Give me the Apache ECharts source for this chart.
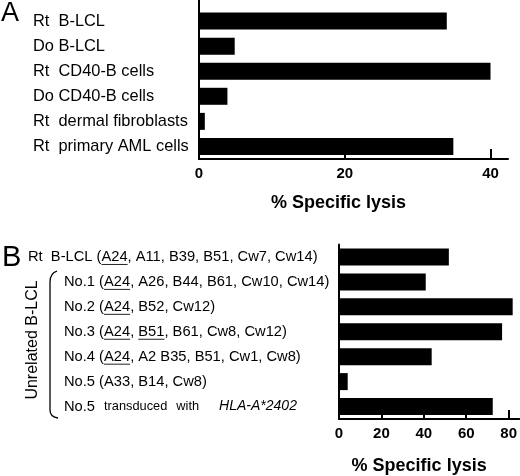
<!DOCTYPE html>
<html>
<head>
<meta charset="utf-8">
<script src="https://cdn.jsdelivr.net/npm/echarts@6/dist/echarts.min.js"></script>
<style>
  html, body { margin: 0; padding: 0; background: #fff; }
  #chart { width: 520px; height: 476px; }
</style>
</head>
<body>
<div id="chart"></div>
<script>
// panel A : target cells
const cellsA = ['Rt  B-LCL', 'Do B-LCL', 'Rt  CD40-B cells', 'Do CD40-B cells', 'Rt  dermal fibroblasts', 'Rt  primary AML cells'];
const lysisA = [34.0, 4.9, 40.0, 3.9, 0.8, 34.9];
const ticksA = [0, 20, 40];

// panel B : HLA typed B-LCL
const cellsB = [
  'Rt  B-LCL (A24, A11, B39, B51, Cw7, Cw14)',
  'No.1 (A24, A26, B44, B61, Cw10, Cw14)',
  'No.2 (A24, B52, Cw12)',
  'No.3 (A24, B51, B61, Cw8, Cw12)',
  'No.4 (A24, A2 B35, B51, Cw1, Cw8)',
  'No.5 (A33, B14, Cw8)',
  'No.5  transduced  with  HLA-A*2402'
];
const underlinedB = [['A24'], ['A24'], ['A24'], ['A24', 'B51'], ['A24'], [], []];
const lysisB = [51.8, 40.9, 81.9, 76.9, 43.7, 4.1, 72.5];
const ticksB = [0, 20, 40, 60, 80];

const FONT = '"Liberation Sans", Arial, sans-serif';
const FS_B = 14.7;

// little image used as underline behind a rich text fragment
function makeUnderline(h) {
  const c = document.createElement('canvas');
  c.width = 4;
  c.height = h;
  const ctx = c.getContext('2d');
  ctx.fillStyle = '#222';
  ctx.fillRect(0, h - 1, 4, 1);
  return c;
}

/**
 * label of panel B : underline shared alleles, indent unrelated lines
 */
function labelB(value, idx) {
  const ind = value.indexOf('No.') === 0 ? '{ind| }' : '';
  if (value.indexOf('transduced') > 0) {
    const p = value.split(/\s+/);
    return ind + '{n|' + p[0] + '}{s|' + p[1] + '}{s|' + p[2] + '}{it|' + p[3] + '}';
  }
  const m = value.match(/^(.*?)\((.*)\)$/);
  const items = m[2].split(', ').map(function (it) {
    return underlinedB[idx].indexOf(it) >= 0 ? '{u|' + it + '}' : '{n|' + it + '}';
  });
  return ind + '{n|' + m[1] + '(}' + items.join('{n|, }') + '{n|)}';
}

const chart = echarts.init(document.getElementById('chart'));

const axisLineStyle = { color: '#000', width: 2 };
const tickLabel = { color: '#000', fontFamily: FONT, fontWeight: 'bold', fontSize: 15 };
const nameStyle = { color: '#000', fontFamily: FONT, fontWeight: 'bold', fontSize: 18 };
const braceStyle = { stroke: '#000', lineWidth: 1.3, fill: null };

chart.setOption({
  animation: false,
  backgroundColor: '#fff',
  grid: [
    { left: 199, right: 12, top: 8.5, height: 150.5 },
    { left: 339, right: 0, top: 244.5, height: 175 }
  ],
  xAxis: [
    {
      type: 'value', gridIndex: 0, min: 0, max: 42.4,
      axisLine: { show: true, lineStyle: axisLineStyle },
      axisTick: { show: true, inside: true, length: 10, lineStyle: axisLineStyle, customValues: ticksA },
      axisLabel: Object.assign({ margin: 7, customValues: ticksA }, tickLabel),
      splitLine: { show: false },
      name: '% Specific lysis', nameLocation: 'middle', nameGap: 35,
      nameTextStyle: Object.assign({ padding: [0, 30, 0, 0] }, nameStyle)
    },
    {
      type: 'value', gridIndex: 1, min: 0, max: 85,
      axisLine: { show: true, lineStyle: axisLineStyle },
      axisTick: { show: true, inside: true, length: 9, lineStyle: axisLineStyle, customValues: ticksB },
      axisLabel: Object.assign({ margin: 7, customValues: ticksB }, tickLabel),
      splitLine: { show: false },
      name: '% Specific lysis', nameLocation: 'middle', nameGap: 38,
      nameTextStyle: Object.assign({ padding: [0, 20, 0, 0] }, nameStyle)
    }
  ],
  yAxis: [
    {
      type: 'category', gridIndex: 0, data: cellsA, inverse: true,
      axisLine: { show: true, lineStyle: axisLineStyle },
      axisTick: { show: false },
      axisLabel: { interval: 0, align: 'left', margin: 166, color: '#000', fontFamily: FONT, fontSize: 16.4 }
    },
    {
      type: 'category', gridIndex: 1, data: cellsB, inverse: true,
      axisLine: { show: true, lineStyle: axisLineStyle },
      axisTick: { show: false },
      axisLabel: {
        interval: 0, align: 'left', margin: 311, color: '#000', fontFamily: FONT, fontSize: FS_B,
        formatter: labelB,
        rich: {
          n: { color: '#000', fontFamily: FONT, fontSize: FS_B },
          u: { color: '#000', fontFamily: FONT, fontSize: FS_B, height: 16, backgroundColor: { image: makeUnderline(16) } },
          ind: { width: 36, fontSize: FS_B },
          s: { color: '#000', fontFamily: FONT, fontSize: 12.8, padding: [0, 0, 0, 9] },
          it: { color: '#000', fontFamily: FONT, fontSize: 14, fontStyle: 'italic', padding: [0, 0, 0, 20] }
        }
      }
    }
  ],
  series: [
    { type: 'bar', xAxisIndex: 0, yAxisIndex: 0, data: lysisA, barWidth: 17, itemStyle: { color: '#000' } },
    { type: 'bar', xAxisIndex: 1, yAxisIndex: 1, data: lysisB, barWidth: 17, itemStyle: { color: '#000' } }
  ],
  graphic: [
    // y axis line of A runs up to the top edge
    { type: 'line', shape: { x1: 199, y1: 0, x2: 199, y2: 9 }, style: { stroke: '#000', lineWidth: 2 } },
    { type: 'text', x: 1, y: 14, style: { text: 'A', fontSize: 27, fontFamily: FONT, fill: '#000', verticalAlign: 'middle' } },
    { type: 'text', x: 2, y: 258, style: { text: 'B', fontSize: 29, fontFamily: FONT, fill: '#000', verticalAlign: 'middle' } },
    { type: 'text', x: 33, y: 340, rotation: Math.PI / 2,
      style: { text: 'Unrelated B-LCL', fontSize: 16, fontFamily: FONT, fill: '#000', align: 'center', verticalAlign: 'middle' } },
    // brace grouping the unrelated lines
    { type: 'bezierCurve', shape: { x1: 57, y1: 271, cpx1: 50, cpy1: 273, x2: 50, y2: 282 }, style: braceStyle },
    { type: 'line', shape: { x1: 50, y1: 282, x2: 50, y2: 410 }, style: braceStyle },
    { type: 'bezierCurve', shape: { x1: 50, y1: 410, cpx1: 50, cpy1: 417, x2: 58, y2: 418 }, style: braceStyle }
  ]
});
</script>
</body>
</html>
